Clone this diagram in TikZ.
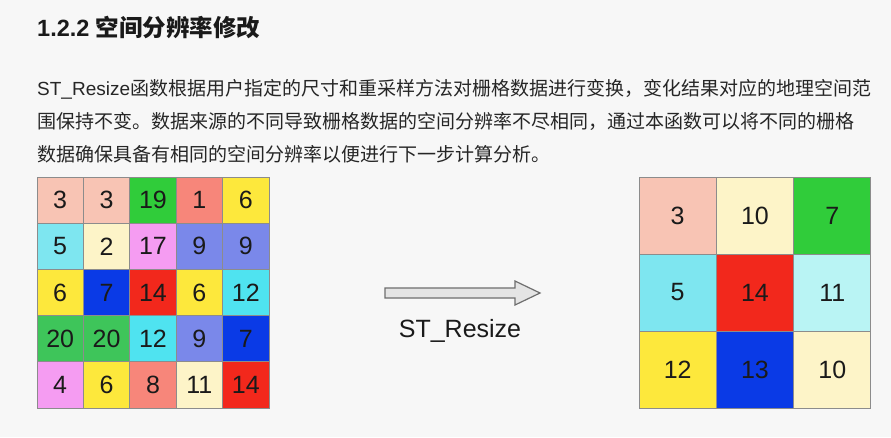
\documentclass[tikz,border=0pt]{standalone}
\usepackage{fontspec}
\setmainfont{Liberation Sans}
\newfontfamily\cjk{Noto Sans CJK SC}
\definecolor{bg}{HTML}{F7F7F7}
\definecolor{txt}{HTML}{262626}
\definecolor{ink}{HTML}{1A1A1A}
\definecolor{gridline}{HTML}{8C8C8C}
\definecolor{pk}{HTML}{F8C4B4}
\definecolor{gr}{HTML}{30CC3A}
\definecolor{gr2}{HTML}{3EC55A}
\definecolor{sa}{HTML}{F7867A}
\definecolor{ye}{HTML}{FDE83C}
\definecolor{cy}{HTML}{7EE6F0}
\definecolor{cy2}{HTML}{4FE3F0}
\definecolor{lc}{HTML}{B9F4F4}
\definecolor{cr}{HTML}{FDF4C8}
\definecolor{vi}{HTML}{F59CF2}
\definecolor{pw}{HTML}{7A88EA}
\definecolor{bl}{HTML}{0A3AE6}
\definecolor{rd}{HTML}{F2281C}
\definecolor{arrfill}{HTML}{E4E4E4}
\definecolor{arrdraw}{HTML}{6E6E6E}
\begin{document}
\begin{tikzpicture}[x=1pt,y=-1pt,
  body/.style={anchor=base west, inner sep=0pt, text=txt, font=\fontsize{19}{19}\selectfont},
  cell/.style={draw=gridline, line width=0.9pt, inner sep=0pt, text=ink},
  smallcell/.style={cell, minimum width=46.4pt, minimum height=46.2pt, font=\fontsize{25}{25}\selectfont},
  bigcell/.style={cell, minimum width=77.3pt, minimum height=77pt, font=\fontsize{25}{25}\selectfont}]
\fill[bg] (0,0) rectangle (891,437);
\useasboundingbox (0,0) rectangle (891,437);
% title
\node[anchor=base west, inner sep=0pt, text=ink, font=\fontsize{23.5}{24}\selectfont\bfseries] (title) at (37,36.7) {1.2.2 {\cjk 空间分辨率修改}};
% body
\node[body] (l1) at (37,95) {ST\_Resize{\cjk 函数根据用户指定的尺寸和重采样方法对栅格数据进行变换，变化结果对应的地理空间范}};
\node[body] (l2) at (37,128.5) {\cjk 围保持不变。数据来源的不同导致栅格数据的空间分辨率不尽相同，通过本函数可以将不同的栅格};
\node[body] (l3) at (37,161.5) {\cjk 数据确保具备有相同的空间分辨率以便进行下一步计算分析。};
% left grid
\foreach \v/\c [count=\i from 0] in {3/pk,3/pk,19/gr,1/sa,6/ye,
  5/cy,2/cr,17/vi,9/pw,9/pw,
  6/ye,7/bl,14/rd,6/ye,12/cy2,
  20/gr2,20/gr2,12/cy2,9/pw,7/bl,
  4/vi,6/ye,8/sa,11/cr,14/rd}{
  \pgfmathtruncatemacro\rr{div(\i,5)}
  \pgfmathtruncatemacro\cc{mod(\i,5)}
  \node[smallcell, fill=\c] (L\rr\cc) at ({37+46.4*(\cc+0.5)},{177+46.2*(\rr+0.5)}) {\v};
}
% right grid
\foreach \v/\c [count=\i from 0] in {3/pk,10/cr,7/gr,
  5/cy,14/rd,11/lc,
  12/ye,13/bl,10/cr}{
  \pgfmathtruncatemacro\rr{div(\i,3)}
  \pgfmathtruncatemacro\cc{mod(\i,3)}
  \node[bigcell, fill=\c] (R\rr\cc) at ({639+77.3*(\cc+0.5)},{177+77*(\rr+0.5)}) {\v};
}
% arrow
\draw[fill=arrfill, draw=arrdraw, line width=1.2pt, line join=miter]
  (385,288) -- (515,288) -- (515,281) -- (540,293) -- (515,305) -- (515,298) -- (385,298) -- cycle;
\node[inner sep=0pt, text=ink, font=\fontsize{25}{25}\selectfont] (lab) at (460,331) {ST\_Resize};
\end{tikzpicture}
\end{document}
